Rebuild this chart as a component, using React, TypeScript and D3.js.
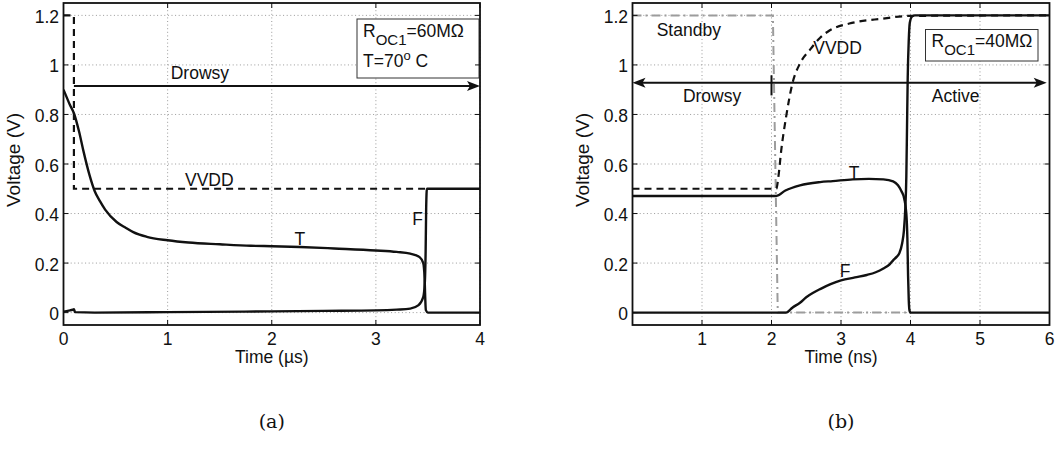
import React from 'react';
import * as d3 from 'd3';

type Pt = [number, number];

const FONT = "'Liberation Sans', Arial, Helvetica, sans-serif";
const SERIF = "'DejaVu Serif', 'Liberation Serif', serif";

// Shared voltage axis
const yTicks = [0, 0.2, 0.4, 0.6, 0.8, 1, 1.2];
const yTickLabels = ['0', '0.2', '0.4', '0.6', '0.8', '1', '1.2'];

// Panel (a): time in µs
const xTicksA = [0, 1, 2, 3, 4];
const xTickLabelsA = ['0', '1', '2', '3', '4'];
const vvddA: Pt[] = [[0, 1.2], [0.1, 1.2], [0.1, 0.5], [3.48, 0.5]];
const trueA: Pt[] = [
  [0, 0.9], [0.03, 0.87], [0.06, 0.84], [0.1, 0.805], [0.15, 0.73], [0.19, 0.655],
  [0.25, 0.555], [0.3, 0.49], [0.35, 0.45], [0.4, 0.416], [0.51, 0.366], [0.6, 0.342],
  [0.67, 0.325], [0.8, 0.306], [1.0, 0.292], [1.2, 0.283], [1.5, 0.276], [1.8, 0.27],
  [2.0, 0.268], [2.27, 0.265], [2.6, 0.259], [3.0, 0.251], [3.2, 0.245], [3.33, 0.238],
  [3.42, 0.224], [3.455, 0.2], [3.468, 0.14], [3.474, 0.06], [3.48, 0.01], [3.5, 0.0],
  [4.0, 0.0],
];
const falseA: Pt[] = [
  [0, 0.004], [0.05, 0.008], [0.09, 0.012], [0.1, 0.014], [0.11, 0.002], [0.3, 0.0],
  [1.0, 0.002], [2.0, 0.005], [2.5, 0.007], [3.0, 0.009], [3.2, 0.012], [3.33, 0.016],
  [3.41, 0.03], [3.455, 0.063], [3.47, 0.12], [3.478, 0.25], [3.483, 0.42], [3.49, 0.5],
  [4.0, 0.5],
];
const drowsyA = { from: 0.1, to: 4, level: 0.915 };

// Panel (b): time in ns
const xTicksB = [1, 2, 3, 4, 5, 6];
const xTickLabelsB = ['1', '2', '3', '4', '5', '6'];
const standbyB: Pt[] = [[0, 1.2], [2.02, 1.2], [2.09, 0], [4.0, 0]];
const vvddB: Pt[] = [
  [0, 0.5], [2.07, 0.5], [2.1, 0.55], [2.14, 0.655], [2.21, 0.79], [2.3, 0.924],
  [2.41, 1.006], [2.55, 1.06], [2.7, 1.11], [2.84, 1.14], [3.12, 1.167], [3.6, 1.187],
  [4.0, 1.198], [6.0, 1.2],
];
const trueB: Pt[] = [
  [0, 0.471], [2.07, 0.471], [2.2, 0.493], [2.41, 0.514], [2.7, 0.527], [2.88, 0.531],
  [3.17, 0.538], [3.4, 0.54], [3.61, 0.538], [3.75, 0.53], [3.82, 0.514], [3.87, 0.49],
  [3.91, 0.46], [3.94, 0.4], [3.955, 0.3], [3.965, 0.15], [3.975, 0.05], [3.985, 0.01],
  [4.0, 0.0], [6.0, 0.0],
];
const falseB: Pt[] = [
  [0, 0], [2.21, 0], [2.3, 0.02], [2.41, 0.04], [2.5, 0.062], [2.6, 0.08], [2.7, 0.095],
  [2.85, 0.115], [3.0, 0.13], [3.2, 0.142], [3.37, 0.152], [3.5, 0.163], [3.61, 0.178],
  [3.7, 0.195], [3.75, 0.211], [3.8, 0.225], [3.84, 0.24], [3.88, 0.28], [3.905, 0.33],
  [3.925, 0.42], [3.94, 0.55], [3.95, 0.75], [3.96, 0.95], [3.975, 1.1], [3.99, 1.17],
  [4.02, 1.195], [4.06, 1.2], [6.0, 1.2],
];
const drowsyB = { from: 0, mark: 2, to: 5.96, level: 0.928 };

const INK = '#111';

type Scale = d3.ScaleLinear<number, number>;

const y = d3.scaleLinear().domain([-0.05, 1.25]).range([325, 3]);
const xA = d3.scaleLinear().domain([0, 4]).range([63.5, 480]);
const xB = d3.scaleLinear().domain([0, 6]).range([632.5, 1049.5]);

function linePath(x: Scale, pts: Pt[], smooth: boolean) {
  return d3
    .line<Pt>()
    .x((d) => x(d[0]))
    .y((d) => y(d[1]))
    .curve(smooth ? d3.curveMonotoneX : d3.curveLinear)(pts) as string;
}

function arrowHead(tx: number, ty: number, dir: number) {
  const L = 13, W = 5, N = 10;
  return `M${tx},${ty}L${tx - dir * L},${ty - W}L${tx - dir * N},${ty}L${tx - dir * L},${ty + W}Z`;
}

function Axes(props: {
  x: Scale; xTicks: number[]; xTickLabels: string[]; xTitle: string; yTitleX: number;
  clipId: string; caption: string; children: React.ReactNode; overlay: React.ReactNode;
}) {
  const { x, xTicks, xTickLabels, xTitle, yTitleX, clipId, caption, children, overlay } = props;
  const [x0, x1] = x.range();
  const [y0, y1] = y.range(); // bottom, top
  const tick = 5;
  return (
    <g>
      <defs>
        <clipPath id={clipId}>
          <rect x={x0} y={y1} width={x1 - x0} height={y0 - y1} />
        </clipPath>
      </defs>
      <rect x={x0} y={y1} width={x1 - x0} height={y0 - y1} fill="#fff" />
      {/* dotted grid */}
      <g stroke="#9a9a9a" strokeWidth={1} strokeDasharray="1,2.6">
        {xTicks.map((t) => (
          <line key={'gx' + t} x1={x(t)} x2={x(t)} y1={y1} y2={y0} />
        ))}
        {yTicks.map((t) => (
          <line key={'gy' + t} x1={x0} x2={x1} y1={y(t)} y2={y(t)} />
        ))}
      </g>
      <g clipPath={`url(#${clipId})`}>{children}</g>
      {overlay}
      {/* inward tick marks */}
      <g stroke={INK} strokeWidth={1}>
        {xTicks.map((t) => (
          <g key={'tx' + t}>
            <line x1={x(t)} x2={x(t)} y1={y0} y2={y0 - tick} />
            <line x1={x(t)} x2={x(t)} y1={y1} y2={y1 + tick} />
          </g>
        ))}
        {yTicks.map((t) => (
          <g key={'ty' + t}>
            <line x1={x0} x2={x0 + tick} y1={y(t)} y2={y(t)} />
            <line x1={x1} x2={x1 - tick} y1={y(t)} y2={y(t)} />
          </g>
        ))}
      </g>
      <rect x={x0} y={y1} width={x1 - x0} height={y0 - y1} fill="none" stroke={INK} strokeWidth={1.8} />
      <g fontFamily={FONT} fontSize={17.5} fill={INK}>
        {xTicks.map((t, i) => (
          <text key={'lx' + t} x={x(t)} y={y0 + 20} textAnchor="middle">
            {xTickLabels[i]}
          </text>
        ))}
        {yTicks.map((t, i) => (
          <text key={'ly' + t} x={x0 - 4.5} y={y(t) + 7.5} textAnchor="end">
            {yTickLabels[i]}
          </text>
        ))}
        <text x={(x0 + x1) / 2} y={363} textAnchor="middle">
          {xTitle}
        </text>
        <text
          transform={`translate(${yTitleX},${(y0 + y1) / 2 - 4}) rotate(-90)`}
          textAnchor="middle"
          fontSize={19}
        >
          Voltage (V)
        </text>
      </g>
      <text x={(x0 + x1) / 2} y={428} textAnchor="middle" fontFamily={SERIF} fontSize={19} fill={INK}>
        {caption}
      </text>
    </g>
  );
}

export default function App() {
  const solid = { fill: 'none', stroke: INK, strokeWidth: 2.4, strokeLinejoin: 'round' as const };
  const dashed = { ...solid, strokeWidth: 2.2, strokeDasharray: '7,5', strokeLinejoin: 'miter' as const };
  const label = { fontFamily: FONT, fontSize: 17.5, fill: INK };

  const a1 = xA.range()[1];
  const b1 = xB.range()[1];
  const top = y.range()[1];

  return (
    <svg
      width={1057}
      height={452}
      viewBox="0 0 1057 452"
      style={{ position: 'absolute', left: 0, top: 0, display: 'block', background: '#fff' }}
    >
      <rect width={1057} height={452} fill="#fff" />

      {/* (a) */}
      <Axes
        x={xA}
        xTicks={xTicksA}
        xTickLabels={xTickLabelsA}
        xTitle="Time (µs)"
        yTitleX={20}
        clipId="clipA"
        caption="(a)"
        overlay={
          <g>
            <line x1={xA(drowsyA.from)} x2={xA(drowsyA.to) - 8} y1={y(drowsyA.level)} y2={y(drowsyA.level)} stroke={INK} strokeWidth={2.2} />
            <path d={arrowHead(xA(drowsyA.to), y(drowsyA.level), 1)} fill={INK} />
            <text {...label} x={xA(1.31)} y={y(0.945)} textAnchor="middle">Drowsy</text>
            <text {...label} x={xA(1.4)} y={y(0.51)} textAnchor="middle">VVDD</text>
            <text {...label} x={xA(2.27)} y={y(0.275)} textAnchor="middle">T</text>
            <text {...label} x={xA(3.4)} y={y(0.352)} textAnchor="middle">F</text>
            <rect x={a1 - 123} y={top + 16} width={122} height={59} fill="#fff" stroke="#333" strokeWidth={1} />
            <text {...label} x={a1 - 117} y={top + 33.5}>
              R<tspan dy={8.5} fontSize={15}>OC1</tspan>
              <tspan dy={-8.5}>=60MΩ</tspan>
            </text>
            <text {...label} x={a1 - 117} y={top + 63.5}>
              T=70<tspan dy={-7} fontSize={13}>o</tspan>
              <tspan dy={7}> C</tspan>
            </text>
          </g>
        }
      >
        <path d={linePath(xA, vvddA, false)} {...dashed} />
        <path d={linePath(xA, trueA, true)} {...solid} />
        <path d={linePath(xA, falseA, true)} {...solid} />
      </Axes>

      {/* (b) */}
      <Axes
        x={xB}
        xTicks={xTicksB}
        xTickLabels={xTickLabelsB}
        xTitle="Time (ns)"
        yTitleX={589}
        clipId="clipB"
        caption="(b)"
        overlay={
          <g>
            <line x1={xB(drowsyB.from) + 8} x2={xB(drowsyB.to) - 8} y1={y(drowsyB.level)} y2={y(drowsyB.level)} stroke={INK} strokeWidth={2.2} />
            <path d={arrowHead(xB(drowsyB.from), y(drowsyB.level), -1)} fill={INK} />
            <path d={arrowHead(xB(drowsyB.to), y(drowsyB.level), 1)} fill={INK} />
            <line x1={xB(drowsyB.mark)} x2={xB(drowsyB.mark)} y1={y(0.958)} y2={y(0.877)} stroke={INK} strokeWidth={2} />
            <text {...label} x={xB(0.81)} y={y(1.115)} textAnchor="middle">Standby</text>
            <text {...label} x={xB(1.145)} y={y(0.85)} textAnchor="middle">Drowsy</text>
            <text {...label} x={xB(4.65)} y={y(0.85)} textAnchor="middle">Active</text>
            <text {...label} x={xB(2.95)} y={y(1.045)} textAnchor="middle">VVDD</text>
            <text {...label} x={xB(3.19)} y={y(0.54)} textAnchor="middle">T</text>
            <text {...label} x={xB(3.06)} y={y(0.142)} textAnchor="middle">F</text>
            <rect x={b1 - 124} y={top + 26.5} width={112.5} height={31.5} fill="#fff" stroke="#333" strokeWidth={1} />
            <text {...label} x={b1 - 118} y={top + 43.5}>
              R<tspan dy={8.5} fontSize={15}>OC1</tspan>
              <tspan dy={-8.5}>=40MΩ</tspan>
            </text>
          </g>
        }
      >
        <path d={linePath(xB, standbyB, false)} fill="none" stroke="#9c9c9c" strokeWidth={2} strokeDasharray="9,4,2,4" />
        <path d={linePath(xB, vvddB, true)} {...dashed} />
        <path d={linePath(xB, trueB, true)} {...solid} />
        <path d={linePath(xB, falseB, true)} {...solid} />
      </Axes>
    </svg>
  );
}
